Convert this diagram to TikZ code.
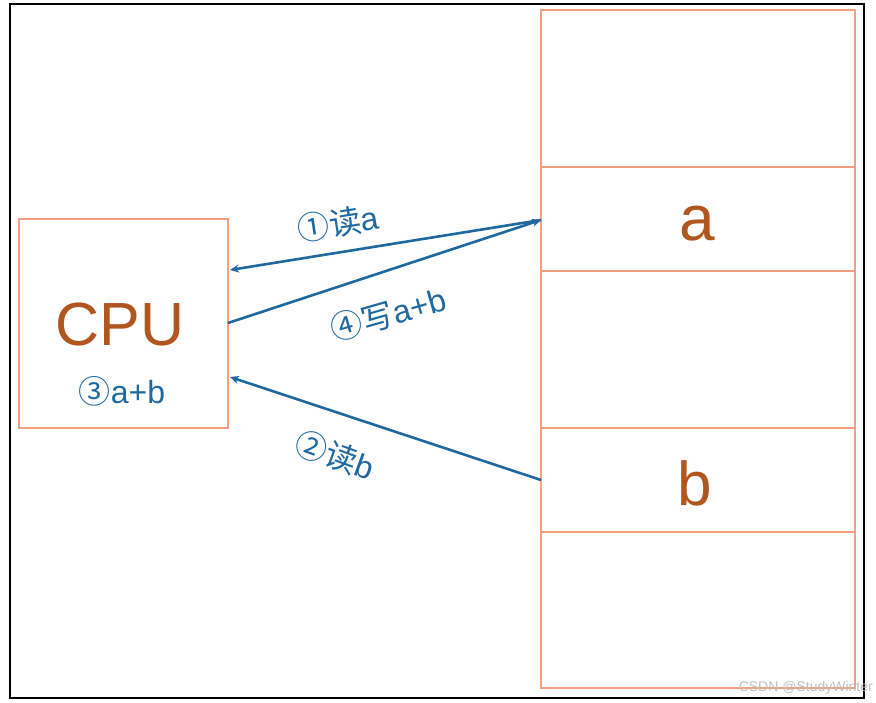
\documentclass[tikz,border=0pt]{standalone}
\usepackage{fontspec}
\setmainfont{Liberation Sans}
\newfontfamily\cjk{Noto Sans CJK SC}
\usetikzlibrary{arrows.meta}
\definecolor{lineblue}{RGB}{31,105,160}
\definecolor{boxorange}{RGB}{244,160,126}
\definecolor{txtorange}{RGB}{176,86,30}
\tikzset{
  cell/.style={draw=boxorange, line width=2.2pt},
  conn/.style={draw=lineblue, line width=2.6pt, -{Stealth[length=9pt,width=8pt]}},
  lbl/.style={text=lineblue, font=\fontsize{32}{34}\selectfont, inner sep=0pt},
  big/.style={text=txtorange, inner sep=0pt}
}
\begin{document}
\begin{tikzpicture}[x=1pt,y=-1pt]
\useasboundingbox (0,0) rectangle (876,703);
\draw[black, line width=2pt] (10,4) rectangle (864,698);
% memory column
\draw[cell] (541,10) rectangle (855,167);
\draw[cell] (541,167) rectangle (855,271);
\draw[cell] (541,271) rectangle (855,428);
\draw[cell] (541,428) rectangle (855,532);
\draw[cell] (541,532) rectangle (855,688);
\node[big, font=\fontsize{64}{64}\selectfont] (a) at (697,224) {a};
\node[big, font=\fontsize{62}{62}\selectfont] (b) at (695,483) {b};
% CPU
\draw[cell] (19,219) rectangle (228,428);
\node[big, font=\fontsize{61}{61}\selectfont] (cpu) at (120,325) {CPU};
\node[lbl, font=\fontsize{32}{34}\selectfont] (sum) at (122,391) {{\cjk ③}a+b};
% anchor points
\coordinate (ma) at (541,220);
\coordinate (mb) at (541,480);
\coordinate (ca) at (230,270);
\coordinate (cw) at (228,323);
\coordinate (cb) at (230,377);
\draw[conn] (ma) -- (ca);
\draw[conn] (cw) -- (ma);
\draw[conn] (mb) -- (cb);
\node[lbl, rotate=9] (l1) at (338,223) {{\cjk ①读}a};
\node[lbl, rotate=16] (l4) at (388,314) {{\cjk ④写}a+b};
\node[lbl, rotate=-20] (l2) at (335,455) {{\cjk ②读}b};
\node[text=black!25, font=\fontsize{14}{14}\selectfont, anchor=east, inner sep=0pt] (wm) at (873,688) {CSDN @StudyWinter};
\end{tikzpicture}
\end{document}
